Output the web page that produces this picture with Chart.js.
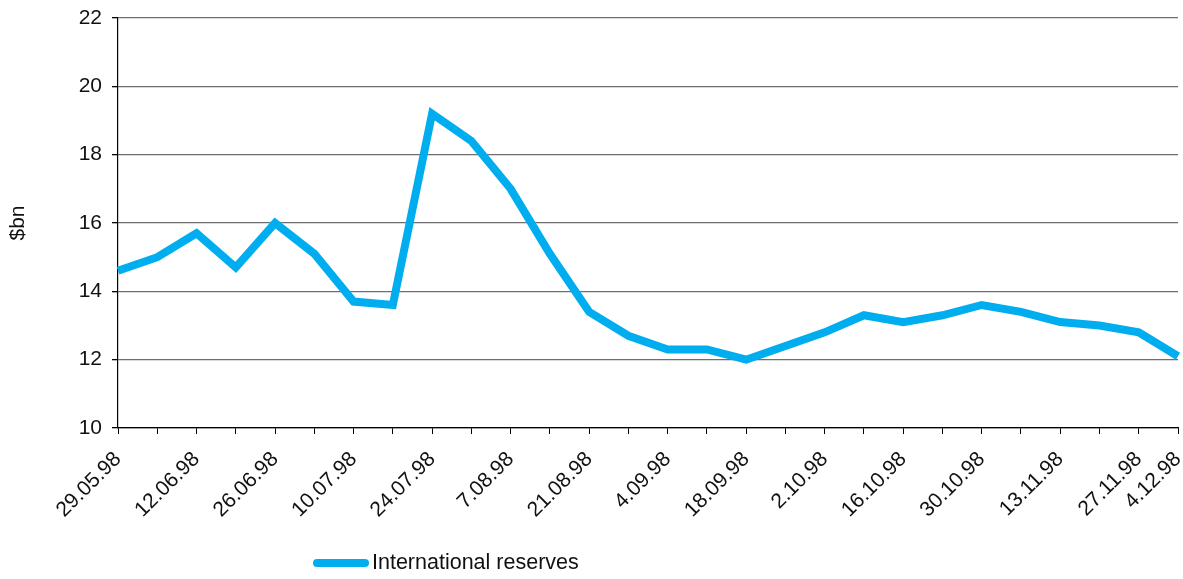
<!DOCTYPE html>
<html>
<head>
<meta charset="utf-8">
<script src="https://cdn.jsdelivr.net/npm/chart.js@4/dist/chart.umd.min.js"></script>
<style>
  body { margin: 0; background: #fff; }
  #wrap { position: relative; width: 1183px; height: 579px; }
  #legend { position: absolute; left: 313px; top: 550px; display: flex; align-items: center;
    font: 21.5px "Liberation Sans", Arial, sans-serif; color: #111; }
  #legend .swatch { width: 56px; height: 8px; border-radius: 4px; background: #00aeef; margin-right: 3px; }
</style>
</head>
<body>
<div id="wrap">
  <canvas id="chart"></canvas>
  <div id="legend"><span class="swatch"></span><span>International reserves</span></div>
</div>
<script>
const dates = ['29.05.98', '5.06.98', '12.06.98', '19.06.98', '26.06.98', '3.07.98', '10.07.98',
  '17.07.98', '24.07.98', '31.07.98', '7.08.98', '14.08.98', '21.08.98', '28.08.98', '4.09.98',
  '11.09.98', '18.09.98', '25.09.98', '2.10.98', '9.10.98', '16.10.98', '23.10.98', '30.10.98',
  '6.11.98', '13.11.98', '20.11.98', '27.11.98', '4.12.98'];
const reserves = [14.6, 15.0, 15.7, 14.7, 16.0, 15.1, 13.7, 13.6, 19.2, 18.4, 17.0, 15.1, 13.4, 12.7,
  12.3, 12.3, 12.0, 12.4, 12.8, 13.3, 13.1, 13.3, 13.6, 13.4, 13.1, 13.0, 12.8, 12.1];
const seriesName = 'International reserves';
const yMin = 10, yMax = 22, yStep = 2;

const font = { family: '"Liberation Sans", Arial, sans-serif', size: 21 };

new Chart(document.getElementById('chart'), {
  type: 'line',
  data: {
    labels: dates,
    datasets: [{
      label: seriesName,
      data: reserves,
      borderColor: '#00aeef',
      borderWidth: 8,
      pointRadius: 0,
      tension: 0,
      borderJoinStyle: 'miter',
    }],
  },
  options: {
    responsive: true,
    maintainAspectRatio: false,
    animation: false,
    layout: { padding: { left: 0, right: 5, top: 18, bottom: 40 } },
    plugins: { legend: { display: false }, tooltip: { enabled: false } },
    scales: {
      x: {
        grid: { drawOnChartArea: false, drawTicks: true, tickLength: 6, tickColor: '#000' },
        border: { color: '#000', width: 1.2 },
        ticks: {
          autoSkip: false,
          maxRotation: 45,
          minRotation: 45,
          padding: 13,
          color: '#111',
          font,
          callback: (v, i) => (i % 2 === 0 || i === dates.length - 1) ? dates[i] : '',
        },
        afterFit: (s) => { s.height = 111; s.paddingLeft = 0; s.paddingRight = 0; },
      },
      y: {
        min: yMin,
        max: yMax,
        grid: { color: '#6e6e6e', lineWidth: 1.3, tickLength: 6, tickColor: '#000' },
        border: { color: '#000', width: 1.2 },
        ticks: { stepSize: yStep, padding: 10, color: '#111', font },
        title: { display: true, text: '$bn', color: '#111', font, padding: { top: 6, bottom: 0 } },
        afterFit: (s) => { s.width = 118; s.paddingTop = 0; s.paddingBottom = 0; },
      },
    },
  },
});
</script>
</body>
</html>
